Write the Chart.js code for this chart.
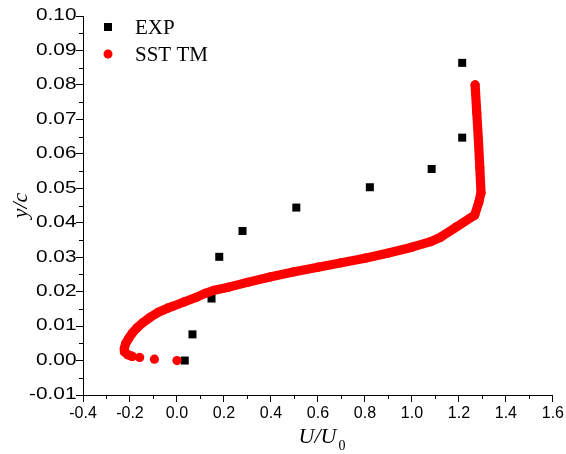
<!DOCTYPE html>
<html>
<head>
<meta charset="utf-8">
<script src="https://cdn.jsdelivr.net/npm/chart.js@4.4.0/dist/chart.umd.min.js"></script>
<style>
html,body{margin:0;padding:0;background:#fff;}
canvas{display:block;}
</style>
</head>
<body>
<canvas id="c" width="566" height="454"></canvas>
<script>
// ---- data ----
const expX = [0.033, 0.066, 0.147, 0.180, 0.279, 0.508, 0.821, 1.084, 1.214, 1.214];
const expY = [0.0000, 0.0076, 0.0180, 0.0301, 0.0376, 0.0444, 0.0503, 0.0556, 0.0647, 0.0864];

const sstX = [0.000, -0.096, -0.159, -0.190, -0.210, -0.222, -0.224, -0.218, -0.205, -0.190,
              -0.170, -0.145, -0.115, -0.080, -0.040, -0.020, 0.030, 0.080, 0.120, 0.158,
              0.220, 0.300, 0.400, 0.500, 0.600, 0.700, 0.800, 0.900, 1.000, 1.080,
              1.122, 1.190, 1.267, 1.285, 1.294, 1.289, 1.283, 1.276, 1.269];
const sstY = [0.0000, 0.0004, 0.0009, 0.0012, 0.0017, 0.0025, 0.0035, 0.0050, 0.0065, 0.0080,
              0.0095, 0.0110, 0.0125, 0.0140, 0.0152, 0.0157, 0.0170, 0.0183, 0.0195, 0.0204,
              0.0213, 0.0227, 0.0243, 0.0258, 0.0271, 0.0284, 0.0297, 0.0312, 0.0329, 0.0345,
              0.0358, 0.0388, 0.0422, 0.0460, 0.0487, 0.0560, 0.0640, 0.0720, 0.0800];

const seriesNames = ['EXP', 'SST TM'];
const xTicksMajor = [-0.4, -0.2, 0.0, 0.2, 0.4, 0.6, 0.8, 1.0, 1.2, 1.4, 1.6];
const yTicksMajor = [-0.01, 0.00, 0.01, 0.02, 0.03, 0.04, 0.05, 0.06, 0.07, 0.08, 0.09, 0.10];
const xTitle = ['U/U', '0'];
const yTitle = 'y/c';

const toPts = (xs, ys) => xs.map((x, i) => ({x: x, y: ys[i]}));

const RED = '#ff0000';

const extras = {
  id: 'extras',
  afterDraw(chart) {
    const ctx = chart.ctx;
    const xs = chart.scales.x, ys = chart.scales.y;
    const ca = chart.chartArea;
    ctx.save();
    // minor ticks
    ctx.strokeStyle = '#000';
    ctx.lineWidth = 1;
    ctx.beginPath();
    for (let i = 0; i < xTicksMajor.length - 1; i++) {
      const v = (xTicksMajor[i] + xTicksMajor[i + 1]) / 2;
      const px = Math.round(xs.getPixelForValue(v)) + 0.5;
      ctx.moveTo(px, ca.bottom);
      ctx.lineTo(px, ca.bottom + 4);
    }
    for (let i = 0; i < yTicksMajor.length - 1; i++) {
      const v = (yTicksMajor[i] + yTicksMajor[i + 1]) / 2;
      const py = Math.round(ys.getPixelForValue(v)) + 0.5;
      ctx.moveTo(ca.left, py);
      ctx.lineTo(ca.left - 4, py);
    }
    ctx.stroke();

    // y tick labels (horizontally widened, as in the reference)
    ctx.fillStyle = '#000';
    ctx.font = '16px "Liberation Sans"';
    ctx.textAlign = 'right';
    ctx.textBaseline = 'middle';
    ys.ticks.forEach(t => {
      const py = ys.getPixelForValue(t.value);
      ctx.save();
      ctx.translate(ca.left - 6.5, py);
      ctx.scale(1.3, 1);
      ctx.fillText(Number(t.value).toFixed(2), 0, 0);
      ctx.restore();
    });
    ctx.textAlign = 'left';

    // x title with subscript
    ctx.textBaseline = 'alphabetic';
    ctx.font = 'italic 22px "Liberation Serif"';
    const w1 = ctx.measureText(xTitle[0]).width;
    ctx.font = '14px "Liberation Serif"';
    const w2 = ctx.measureText(xTitle[1]).width;
    const cx = (ca.left + ca.right) / 2 + 4;
    const x0 = cx - (w1 + w2 + 2) / 2;
    ctx.font = 'italic 22px "Liberation Serif"';
    ctx.fillText(xTitle[0], x0, 443);
    ctx.font = '14px "Liberation Serif"';
    ctx.fillText(xTitle[1], x0 + w1 + 2, 450);

    // legend
    const lx = ca.left + 25;
    const ly1 = ca.top + 11, ly2 = ca.top + 38;
    ctx.fillStyle = '#000';
    ctx.fillRect(lx - 4, ly1 - 4, 8, 8);
    ctx.fillStyle = RED;
    ctx.beginPath();
    ctx.arc(lx, ly2, 4.5, 0, Math.PI * 2);
    ctx.fill();
    ctx.fillStyle = '#000';
    ctx.font = '21px "Liberation Serif"';
    ctx.textBaseline = 'middle';
    ctx.fillText(seriesNames[0], ca.left + 52, ly1 + 1);
    ctx.fillText(seriesNames[1], ca.left + 52, ly2 + 1);
    ctx.restore();
  }
};

new Chart(document.getElementById('c'), {
  type: 'scatter',
  data: {
    datasets: [
      {
        label: seriesNames[0],
        data: toPts(expX, expY),
        pointStyle: 'rect',
        pointRadius: 5.66,
        pointHoverRadius: 5.66,
        backgroundColor: '#000',
        borderColor: '#000',
        borderWidth: 0,
        order: 2
      },
      {
        label: seriesNames[1],
        data: toPts(sstX, sstY),
        pointStyle: 'circle',
        pointRadius: 4.6,
        pointHoverRadius: 4.6,
        backgroundColor: RED,
        borderColor: RED,
        borderWidth: 9.2,
        pointBorderWidth: 0,
        showLine: true,
        borderCapStyle: 'round',
        borderJoinStyle: 'round',
        segment: {
          borderColor: c => (c.p0DataIndex < 3 ? 'rgba(0,0,0,0)' : RED)
        },
        order: 1
      }
    ]
  },
  options: {
    responsive: false,
    animation: false,
    devicePixelRatio: 1,
    events: [],
    layout: {padding: {top: 16, right: 13, bottom: 0, left: 0}},
    plugins: {
      legend: {display: false},
      tooltip: {enabled: false}
    },
    scales: {
      x: {
        type: 'linear',
        min: -0.4, max: 1.6,
        afterFit: s => { s.height = 59; },
        afterBuildTicks: s => { s.ticks = xTicksMajor.map(v => ({value: v})); },
        ticks: {
          color: '#000',
          font: {family: '"Liberation Sans"', size: 16},
          padding: 2,
          callback: v => Number(v).toFixed(1)
        },
        grid: {display: true, drawOnChartArea: false, drawTicks: true, tickLength: 7, color: '#000', tickColor: '#000'},
        border: {display: true, color: '#000', width: 1}
      },
      y: {
        type: 'linear',
        min: -0.01, max: 0.10,
        afterFit: s => { s.width = 83; },
        afterBuildTicks: s => { s.ticks = yTicksMajor.map(v => ({value: v})); },
        ticks: {
          display: false,
          callback: v => Number(v).toFixed(2)
        },
        grid: {display: true, drawOnChartArea: false, drawTicks: true, tickLength: 7, color: '#000', tickColor: '#000'},
        border: {display: true, color: '#000', width: 1},
        title: {
          display: true,
          text: yTitle,
          color: '#000',
          font: {family: '"Liberation Serif"', size: 22, style: 'italic'},
          padding: {top: 8, bottom: 0}
        }
      }
    }
  },
  plugins: [extras]
});
</script>
</body>
</html>
